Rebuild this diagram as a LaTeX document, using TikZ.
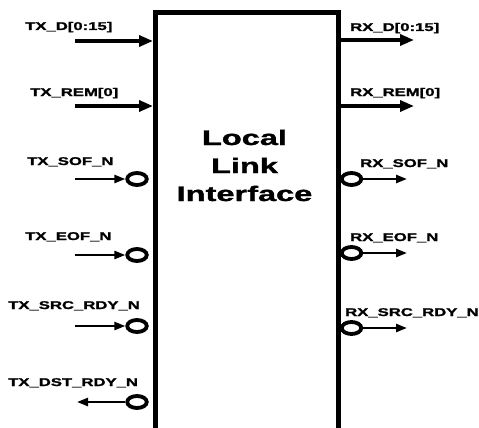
\documentclass[tikz,border=0pt]{standalone}
\usepackage{fontspec}
\setmainfont{Liberation Sans}[BoldFeatures={FakeBold=1.2}]
\usetikzlibrary{arrows.meta,shapes.geometric}
\newcommand{\wdtxt}[1]{\scalebox{1.49}[1]{#1}}
\newcommand{\wdtitle}[1]{\scalebox{1.55}[1]{#1}}
\begin{document}
\begin{tikzpicture}[x=1pt,y=-1pt,
  lbl/.style={font=\fontsize{11.2}{13}\selectfont\bfseries, inner sep=0pt, anchor=base west},
  ttl/.style={font=\fontsize{21}{27}\selectfont\bfseries, inner sep=0pt, anchor=base},
  bus/.style={line width=3.4pt, -{Triangle[length=14pt,width=11pt]}},
  sig/.style={line width=2.4pt, -{Triangle[length=11pt,width=8pt]}},
  bubble/.style={draw, ellipse, line width=3.8pt, minimum width=19.5pt, minimum height=12pt, inner sep=0pt},
  blk/.style={draw, line width=5pt, rectangle, inner sep=0pt}]
\clip (0,0) rectangle (479,428);
\fill[white] (0,0) rectangle (479,428);
% block
\node[blk, minimum width=183pt, minimum height=424pt, anchor=north west] (box) at (153,10) {};
\node[ttl] (t1) at (244.5,145) {\wdtitle{Local}};
\node[ttl] (t2) at (244.5,173) {\wdtitle{Link}};
\node[ttl] (t3) at (244.5,201) {\wdtitle{Interface}};
% labels
\node[lbl] (ltxd) at (25,30) {\wdtxt{TX\_D[0:15]}};
\node[lbl] (ltxrem) at (30,96) {\wdtxt{TX\_REM[0]}};
\node[lbl] (lrxd) at (350,31) {\wdtxt{RX\_D[0:15]}};
\node[lbl] (lrxrem) at (350,96) {\wdtxt{RX\_REM[0]}};
\node[lbl] (ltxsof) at (27,165) {\wdtxt{TX\_SOF\_N}};
\node[lbl] (ltxeof) at (25,240) {\wdtxt{TX\_EOF\_N}};
\node[lbl] (lrxsof) at (360,167) {\wdtxt{RX\_SOF\_N}};
\node[lbl] (lrxeof) at (350,241) {\wdtxt{RX\_EOF\_N}};
\node[lbl] (ltxsrc) at (8,309) {\wdtxt{TX\_SRC\_RDY\_N}};
\node[lbl] (ltxdst) at (8,386) {\wdtxt{TX\_DST\_RDY\_N}};
\node[lbl] (lrxsrc) at (345,316) {\wdtxt{RX\_SRC\_RDY\_N}};
% bus arrows
\coordinate (txd) at (75,41);
\coordinate (txrem) at (75,106);
\coordinate (rxd) at (414,40);
\coordinate (rxrem) at (414,106);
\draw[bus] (txd) -- (txd -| box.west);
\draw[bus] (txrem) -- (txrem -| box.west);
\draw[bus] (rxd -| box.east) -- (rxd);
\draw[bus] (rxrem -| box.east) -- (rxrem);
% bubbles
\node[bubble] (btxsof) at (137,179) {};
\node[bubble] (btxeof) at (137,255) {};
\node[bubble] (btxsrc) at (137,326) {};
\node[bubble] (btxdst) at (137,402) {};
\node[bubble] (brxsof) at (351.5,179) {};
\node[bubble] (brxeof) at (351.5,253) {};
\node[bubble] (brxsrc) at (351.5,328) {};
% signal arrows
\coordinate (txsof) at (75,179);
\coordinate (txeof) at (75,255);
\coordinate (txsrc) at (75,326);
\coordinate (txdst) at (77,402);
\coordinate (rxsof) at (407,179);
\coordinate (rxeof) at (407,253);
\coordinate (rxsrc) at (407,328);
\draw[sig] (txsof) -- (btxsof);
\draw[sig] (txeof) -- (btxeof);
\draw[sig] (txsrc) -- (btxsrc);
\draw[sig] (btxdst) -- (txdst);
\draw[sig] (brxsof) -- (rxsof);
\draw[sig] (brxeof) -- (rxeof);
\draw[sig] (brxsrc) -- (rxsrc);
\end{tikzpicture}
\end{document}
